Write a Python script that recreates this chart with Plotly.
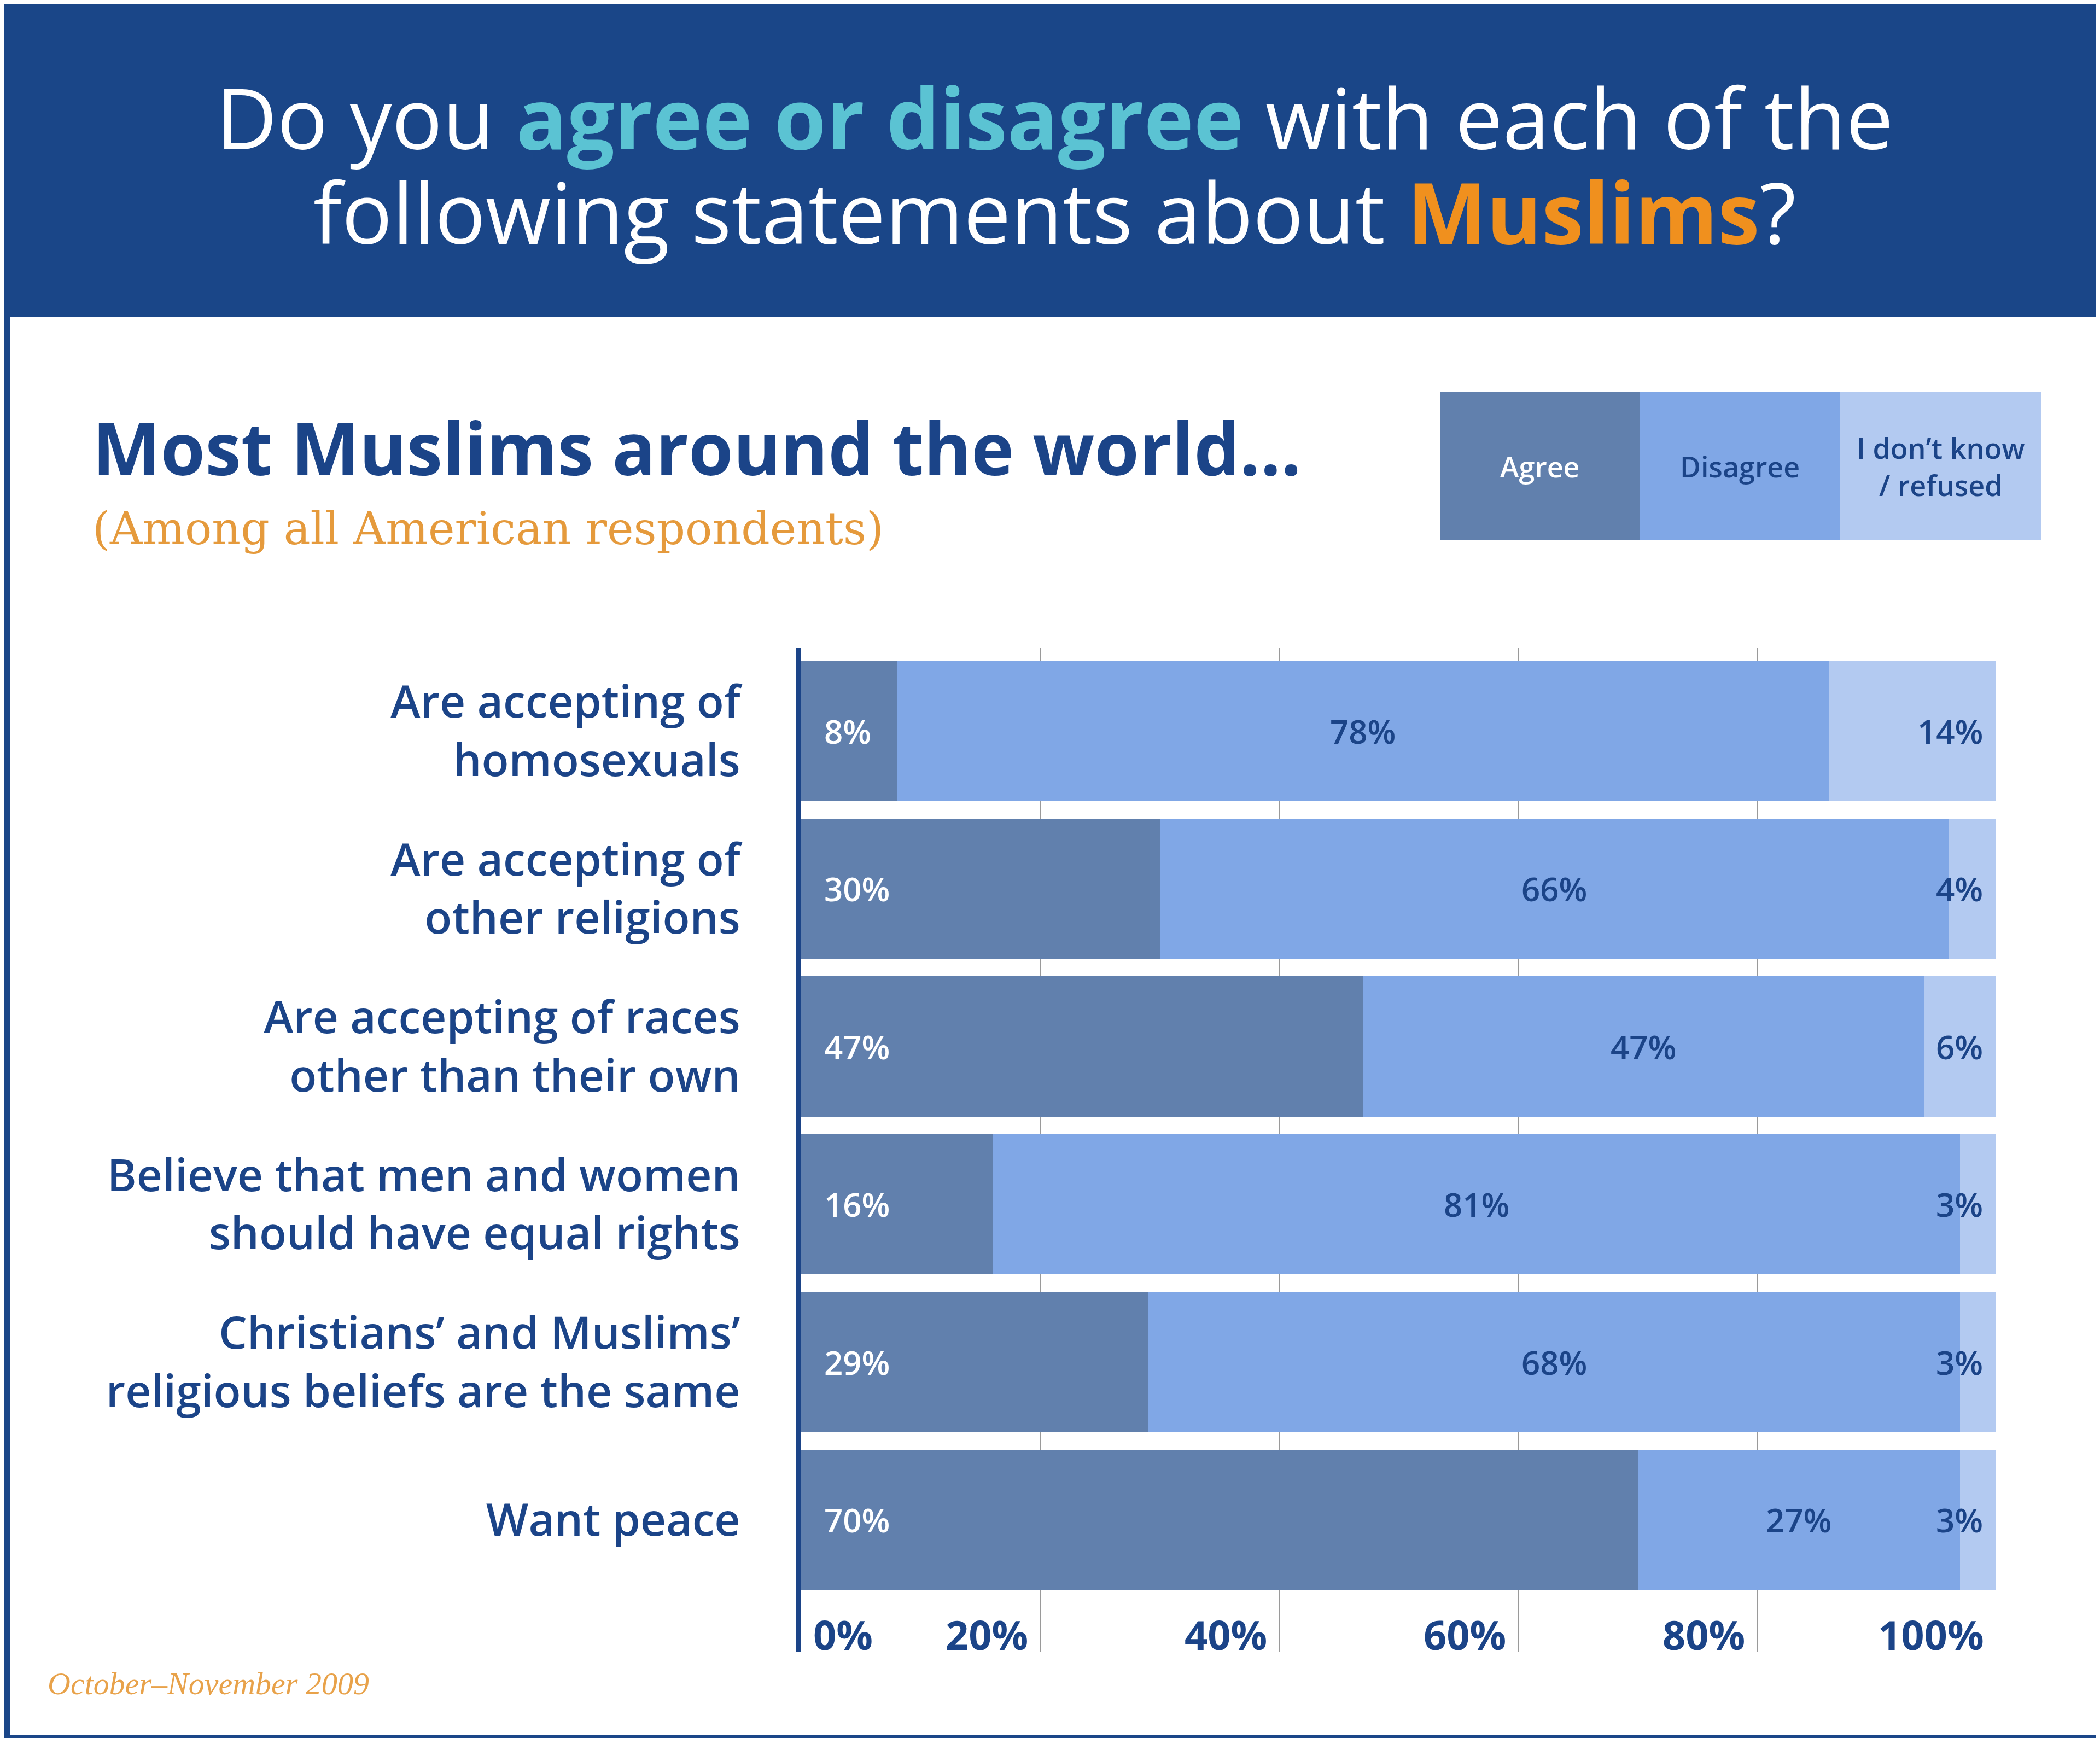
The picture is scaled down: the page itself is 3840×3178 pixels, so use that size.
import plotly.graph_objects as go

# data
statements = ["Are accepting of<br>homosexuals",
              "Are accepting of<br>other religions",
              "Are accepting of races<br>other than their own",
              "Believe that men and women<br>should have equal rights",
              "Christians’ and Muslims’<br>religious beliefs are the same",
              "Want peace"]
agree = [8, 30, 47, 16, 29, 70]
disagree = [78, 66, 47, 81, 68, 27]
dont_know = [14, 4, 6, 3, 3, 3]
tick_vals = [0, 20, 40, 60, 80, 100]
tick_labels = ["0%", "20%", "40%", "60%", "80%", "100%"]
legend_names = ["Agree", "Disagree", "I don’t know<br>/ refused"]

W, H = 3840, 3178
HEADER = "#1a4688"
NAVY = "#1b4488"
C_AGREE = "#6180ad"
C_DIS = "#80a7e6"
C_DK = "#b3caf1"
TEAL = "#5bc3d3"
ORANGE = "#f0901e"
SANS = "Open Sans"
SERIF = "DejaVu Serif"

fig = go.Figure()
for name, vals, col in [("Agree", agree, C_AGREE), ("Disagree", disagree, C_DIS),
                        ("I don't know / refused", dont_know, C_DK)]:
    fig.add_trace(go.Bar(y=statements, x=vals, name=name, orientation="h",
                         marker=dict(color=col, line=dict(width=0)),
                         showlegend=False, hoverinfo="x+name"))

ann = []
# value labels
for s, a, d, k in zip(statements, agree, disagree, dont_know):
    ann.append(dict(x=0, y=s, xref="x", yref="y", text=f"{a}%", showarrow=False,
                    xanchor="left", yanchor="middle", xshift=40,
                    font=dict(family=SANS, size=60, color="white", weight=600)))
    ann.append(dict(x=a + d / 2, y=s, xref="x", yref="y", text=f"{d}%", showarrow=False,
                    xanchor="center", yanchor="middle",
                    font=dict(family=SANS, size=60, color=NAVY, weight=600)))
    ann.append(dict(x=100, y=s, xref="x", yref="y", text=f"{k}%", showarrow=False,
                    xanchor="right", yanchor="middle", xshift=-22,
                    font=dict(family=SANS, size=60, color=NAVY, weight=600)))

# x tick labels, right-aligned to their gridlines
for v, t in zip(tick_vals, tick_labels):
    ann.append(dict(x=v, y=1 - 2980 / H, xref="x", yref="paper", text=t, showarrow=False,
                    xanchor="left" if v == 0 else "right", yanchor="middle",
                    xshift=20 if v == 0 else -20,
                    font=dict(family=SANS, size=74, color=NAVY, weight=700)))

# headline
ann.append(dict(x=0.5, y=1 - 205 / H, xref="paper", yref="paper", showarrow=False,
                xanchor="center", yanchor="middle",
                text=f"Do you <b><span style='color:{TEAL}'>agree or disagree</span></b> with each of the",
                font=dict(family=SANS, size=154, color="white")))
ann.append(dict(x=0.5, y=1 - 378 / H, xref="paper", yref="paper", showarrow=False,
                xanchor="center", yanchor="middle",
                text=f"following statements about <b><span style='color:{ORANGE}'>Muslims</span></b>?",
                font=dict(family=SANS, size=154, color="white")))
ann.append(dict(x=0.0414, y=1 - 810 / H, xref="paper", yref="paper", showarrow=False,
                xanchor="left", yanchor="middle",
                text="<b>Most Muslims around the world...</b>",
                font=dict(family=SANS, size=132, color=NAVY, weight=800)))
ann.append(dict(x=0.0414, y=1 - 958 / H, xref="paper", yref="paper", showarrow=False,
                xanchor="left", yanchor="middle",
                text="(Among all American respondents)",
                font=dict(family=SERIF, size=82, color="#e59a3c")))
ann.append(dict(x=0.020, y=1 - 3070 / H, xref="paper", yref="paper", showarrow=False,
                xanchor="left", yanchor="middle",
                text="<i>October–November 2009</i>",
                font=dict(family="Liberation Serif", size=58, color="#e8a24a")))

# legend box
lx = [2625, 2990, 3356, 3725]
ly0, ly1 = 1 - 980 / H, 1 - 708 / H
shapes = [
    dict(type="rect", xref="paper", yref="paper", x0=0, x1=1, y0=0, y1=1,
         fillcolor=HEADER, line=dict(width=0), layer="below"),
    dict(type="rect", xref="paper", yref="paper", x0=10 / W, x1=1 - 8 / W,
         y0=13 / H, y1=1 - 571 / H, fillcolor="white", line=dict(width=0), layer="below"),
]
for i, (col, name) in enumerate(zip([C_AGREE, C_DIS, C_DK], legend_names)):
    shapes.append(dict(type="rect", xref="paper", yref="paper", x0=lx[i] / W, x1=lx[i + 1] / W,
                       y0=ly0, y1=ly1, fillcolor=col, line=dict(width=0)))
    ann.append(dict(x=(lx[i] + lx[i + 1]) / 2 / W, y=(ly0 + ly1) / 2, xref="paper", yref="paper",
                    text=name, showarrow=False, xanchor="center", yanchor="middle",
                    font=dict(family=SANS, size=52, color="white" if i == 0 else NAVY, weight=600)))

fig.update_layout(
    width=W, height=H, margin=dict(l=0, r=0, t=0, b=0),
    barmode="stack", bargap=0.11,
    paper_bgcolor="white", plot_bgcolor="rgba(0,0,0,0)",
    annotations=ann, shapes=shapes,
    xaxis=dict(domain=[1457 / W, 3642 / W], range=[0, 100], tickvals=tick_vals[1:],
               showticklabels=False, showgrid=True, gridcolor="#9a9a9a", gridwidth=3,
               zeroline=False, showline=False, fixedrange=True),
    yaxis=dict(domain=[1 - 3012 / H, 1 - 1176 / H], range=[5.835, -0.529],
               tickvals=statements, ticktext=statements, ticks="",
               ticklabelstandoff=86, showline=True, linecolor=NAVY, linewidth=9,
               showgrid=False, zeroline=False,
               tickfont=dict(family=SANS, size=82, color=NAVY, weight=600)),
)

fig.write_html("out.html")
